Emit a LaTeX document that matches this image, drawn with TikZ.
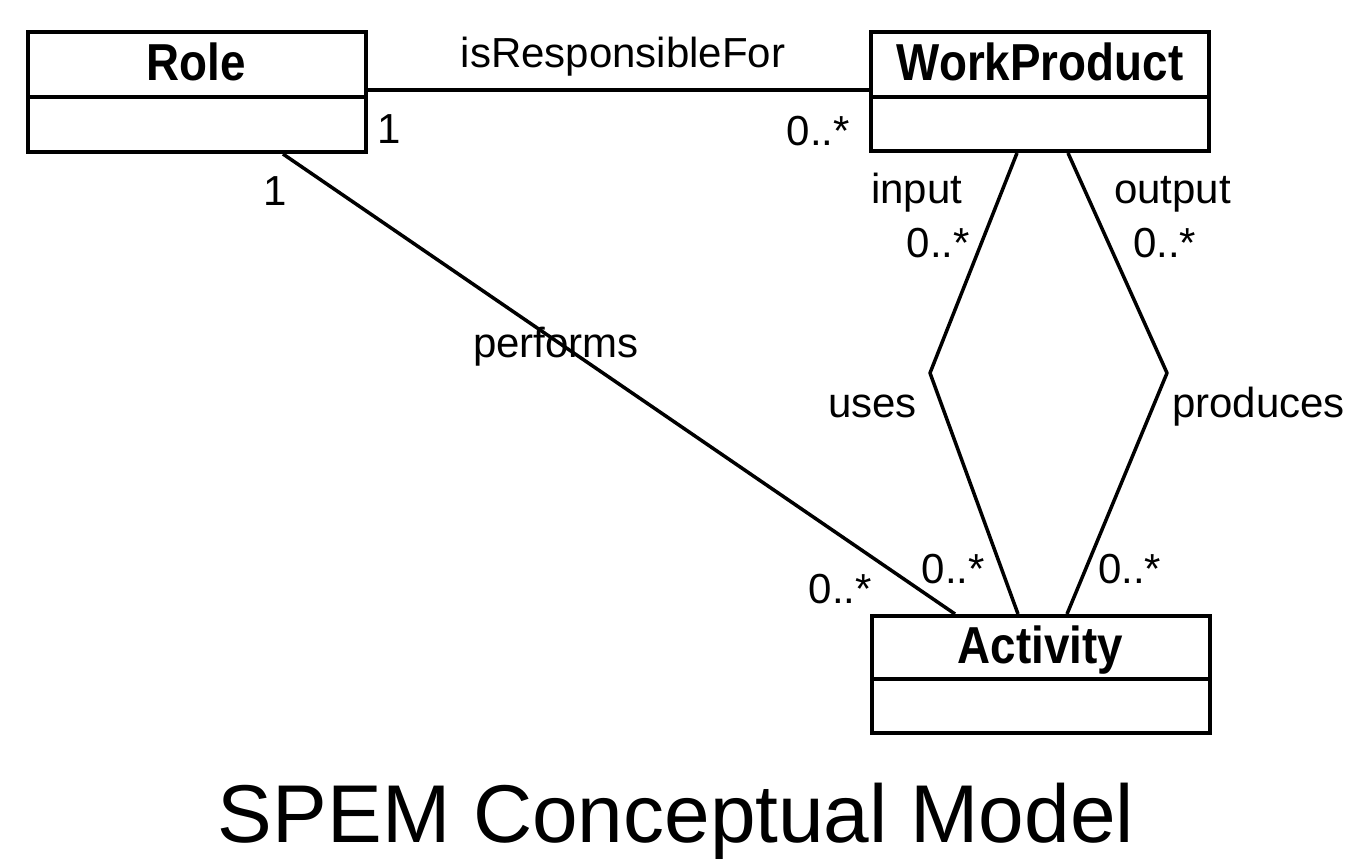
\documentclass[tikz,border=0pt]{standalone}
\usepackage{fontspec}
\setmainfont{Liberation Sans}
\newfontfamily\clsfont{Liberation Sans}[FakeStretch=0.88]
\begin{document}
\begin{tikzpicture}[x=1pt,y=-1pt,
  classhead/.style={draw,line width=4pt,minimum width=338pt,minimum height=65pt,inner sep=0pt,
    font=\clsfont\bfseries\fontsize{52}{60}\selectfont},
  classbody/.style={draw,line width=4pt,minimum width=338pt,inner sep=0pt},
  assoc/.style={line width=3.5pt,line join=round},
  lbl/.style={font=\fontsize{42}{50}\selectfont,inner sep=0pt},
  titlelbl/.style={font=\fontsize{82}{98}\selectfont,inner sep=0pt}]
\useasboundingbox (0,0) rectangle (1351,862);
% classes
\node[classhead,minimum height=65pt] (rolehead) at (196.5,64.5) {};
\node[classbody,minimum height=55pt] (rolebody) at (196.5,124.5) {};
\node[font=\clsfont\bfseries\fontsize{52}{60}\selectfont,anchor=base,inner sep=0pt] (rolename) at (196.5,80) {Role};
\node[classhead,minimum height=65pt] (wphead) at (1040,64.5) {};
\node[classbody,minimum height=54pt] (wpbody) at (1040,124) {};
\node[font=\clsfont\bfseries\fontsize{52}{60}\selectfont,anchor=base,inner sep=0pt] (wpname) at (1040,80) {WorkProduct};
\node[classhead,minimum height=63pt] (acthead) at (1040.5,647.5) {};
\node[classbody,minimum height=54pt] (actbody) at (1040.5,706) {};
\node[font=\clsfont\bfseries\fontsize{52}{60}\selectfont,anchor=base,inner sep=0pt] (actname) at (1040.5,663) {Activity};
% bends
\coordinate (usesbend) at (930,373);
\coordinate (prodbend) at (1167,373);
% connectors
\draw[assoc] ([yshift=-25.5pt]rolehead.east) -- ([yshift=-25.5pt]wphead.west);
\draw[assoc] ([xshift=86.5pt]rolebody.south) -- ([xshift=-85.5pt]acthead.north);
\draw[assoc] ([xshift=-23pt]wpbody.south) -- (usesbend) -- ([xshift=-22.5pt]acthead.north);
\draw[assoc] ([xshift=28pt]wpbody.south) -- (prodbend) -- ([xshift=26.5pt]acthead.north);
% labels
\node[lbl,anchor=base] (lresp) at (623,67) {isResponsibleFor};
\node[lbl,anchor=base west] (lrole1) at (377,143) {1};
\node[lbl,anchor=base east] (lwpm) at (850,145) {0..*};
\node[lbl,anchor=base west] (lrole2) at (263,205) {1};
\node[lbl,anchor=base west] (lperf) at (473,357) {performs};
\node[lbl,anchor=base west] (linput) at (871,203) {input};
\node[lbl,anchor=base east] (linm) at (970,257) {0..*};
\node[lbl,anchor=base west] (loutput) at (1114,203) {output};
\node[lbl,anchor=base west] (loutm) at (1133,257) {0..*};
\node[lbl,anchor=base west] (luses) at (828,417) {uses};
\node[lbl,anchor=base west] (lprod) at (1172,417) {produces};
\node[lbl,anchor=base east] (lusem) at (985,583) {0..*};
\node[lbl,anchor=base west] (lprodm) at (1098,583) {0..*};
\node[lbl,anchor=base east] (lperfm) at (872,603) {0..*};
\node[titlelbl,anchor=base] (title) at (676,842) {SPEM Conceptual Model};
\end{tikzpicture}
\end{document}
